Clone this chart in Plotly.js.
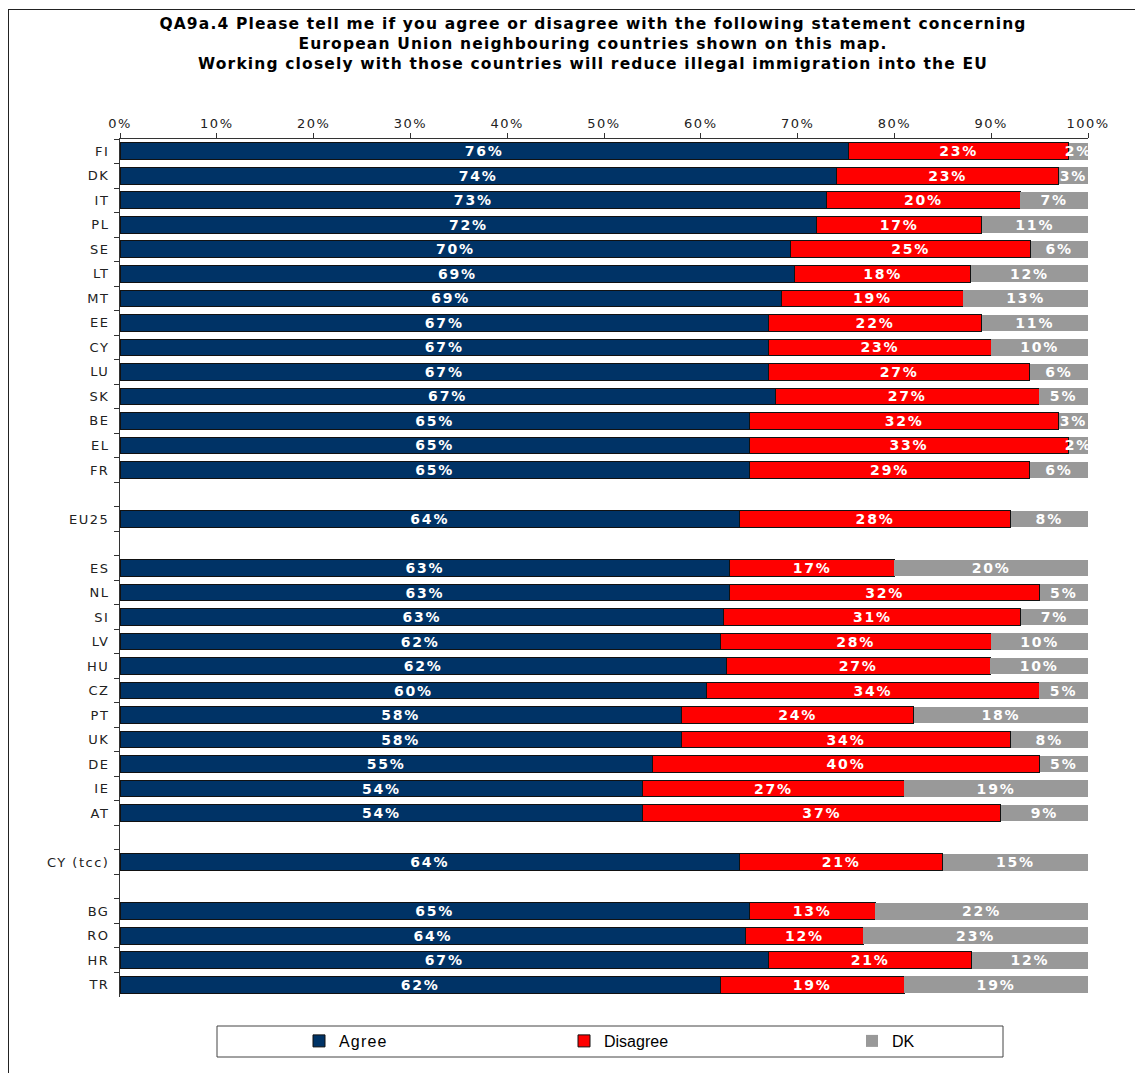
<!DOCTYPE html>
<html>
<head>
<meta charset="utf-8">
<script src="https://cdn.plot.ly/plotly-3.0.1.min.js"></script>
<style>
  html, body { margin: 0; padding: 0; background: #fff; overflow: hidden; }
  #chart { position: absolute; left: 0; top: 0; width: 1135px; height: 1073px; }
  #frame { position: absolute; left: 8px; top: 9px; width: 1140px; height: 1080px; border: 1px solid #222; pointer-events: none; }
  #chart .gtitle { letter-spacing: 1.15px; }
  #chart text.bartext { letter-spacing: 1.8px; }
  #chart .xtick text, #chart .ytick text { letter-spacing: 1.5px; }
  #chart .legendtext { letter-spacing: 1.2px; }
</style>
</head>
<body>
<div id="chart"></div>
<div id="frame"></div>
<script>
// ---- Data ----
const categories = [
  "FI", "DK", "IT", "PL", "SE", "LT", "MT", "EE", "CY", "LU", "SK", "BE", "EL", "FR",
  " ",
  "EU25",
  "  ",
  "ES", "NL", "SI", "LV", "HU", "CZ", "PT", "UK", "DE", "IE", "AT",
  "   ",
  "CY (tcc)",
  "    ",
  "BG", "RO", "HR", "TR"
];
const agree = [
  76, 74, 73, 72, 70, 69, 69, 67, 67, 67, 67, 65, 65, 65,
  null,
  64,
  null,
  63, 63, 63, 62, 62, 60, 58, 58, 55, 54, 54,
  null,
  64,
  null,
  65, 64, 67, 62
];
const disagree = [
  23, 23, 20, 17, 25, 18, 19, 22, 23, 27, 27, 32, 33, 29,
  null,
  28,
  null,
  17, 32, 31, 28, 27, 34, 24, 34, 40, 27, 37,
  null,
  21,
  null,
  13, 12, 21, 19
];
const dk = [
  2, 3, 7, 11, 6, 12, 13, 11, 10, 6, 5, 3, 2, 6,
  null,
  8,
  null,
  20, 5, 7, 10, 10, 5, 18, 8, 5, 19, 9,
  null,
  15,
  null,
  22, 23, 12, 19
];
const seriesNames = ["Agree", "Disagree", "DK"];
const xTickValues = [0, 10, 20, 30, 40, 50, 60, 70, 80, 90, 100];
const xTickLabels = ["0%", "10%", "20%", "30%", "40%", "50%", "60%", "70%", "80%", "90%", "100%"];
const titleText = "QA9a.4 Please tell me if you agree or disagree with the following statement concerning<br>European Union neighbouring countries shown on this map.<br>Working closely with those countries will reduce illegal immigration into the EU";

// ---- Styling ----
const colors = ["#003366", "#FF0000", "#999999"];
const outlines = [{color: "#111", width: 1}, {color: "#111", width: 1}, {color: "#999999", width: 0}];
const labelFont = {family: "DejaVu Sans", size: 14, color: "#ffffff", weight: "bold"};
const legendIds = ["legend", "legend2", "legend3"];
const legendLeftPx = [299, 564, 852];

function pct(arr) { return arr.map(v => (v === null ? "" : v + "%")); }

const values = [agree, disagree, dk];
const traces = values.map((vals, i) => ({
  type: "bar",
  orientation: "h",
  name: seriesNames[i],
  legend: legendIds[i],
  y: categories,
  x: vals,
  text: pct(vals),
  texttemplate: "%{text}",
  textposition: "inside",
  insidetextanchor: "middle",
  textangle: 0,
  constraintext: "none",
  insidetextfont: labelFont,
  marker: {color: colors[i], line: outlines[i]},
  hoverinfo: "skip"
}));

// pixel geometry helpers
const W = 1135, H = 1073;
const M = {l: 120, r: 47, t: 139, b: 76, autoexpand: false};
const plotW = W - M.l - M.r, plotH = H - M.t - M.b;
const px2x = px => (px - M.l) / plotW;
const py2y = py => (H - M.b - py) / plotH;

const layout = {
  width: W,
  height: H,
  margin: M,
  paper_bgcolor: "#ffffff",
  plot_bgcolor: "#ffffff",
  barmode: "stack",
  barnorm: "percent",
  bargap: 0.32,
  showlegend: true,
  title: {
    text: titleText,
    font: {family: "DejaVu Sans", size: 15.5, color: "#000", weight: "bold"},
    xref: "paper",
    x: px2x(593),
    xanchor: "center",
    yref: "container",
    y: 1 - 29 / H,
    yanchor: "top"
  },
  xaxis: {
    side: "top",
    range: [0, 100],
    tickmode: "array",
    tickvals: xTickValues,
    ticktext: xTickLabels,
    ticks: "outside",
    ticklen: 5,
    tickcolor: "#333",
    showline: true,
    linecolor: "#333",
    linewidth: 1,
    showgrid: false,
    zeroline: false,
    fixedrange: true,
    tickfont: {family: "DejaVu Sans", size: 13, color: "#222"}
  },
  yaxis: {
    type: "category",
    autorange: "reversed",
    tickson: "boundaries",
    ticks: "outside",
    ticklen: 5,
    tickcolor: "#333",
    showline: true,
    linecolor: "#333",
    linewidth: 1,
    showgrid: false,
    zeroline: false,
    fixedrange: true,
    ticklabelstandoff: 7,
    tickfont: {family: "DejaVu Sans", size: 13, color: "#222"}
  },
  shapes: [{
    type: "rect",
    xref: "paper", yref: "paper",
    x0: px2x(217), x1: px2x(1003),
    y0: py2y(1057), y1: py2y(1026),
    line: {color: "#444", width: 1},
    fillcolor: "rgba(0,0,0,0)",
    layer: "below"
  }]
};

legendIds.forEach((id, i) => {
  layout[id] = {
    orientation: "h",
    x: px2x(legendLeftPx[i]),
    xanchor: "left",
    y: py2y(1041),
    yanchor: "middle",
    bgcolor: "rgba(0,0,0,0)",
    borderwidth: 0,
    font: {family: "Liberation Sans", size: 16, color: "#000"}
  };
});

Plotly.newPlot("chart", traces, layout, {displayModeBar: false, staticPlot: true});
</script>
</body>
</html>
